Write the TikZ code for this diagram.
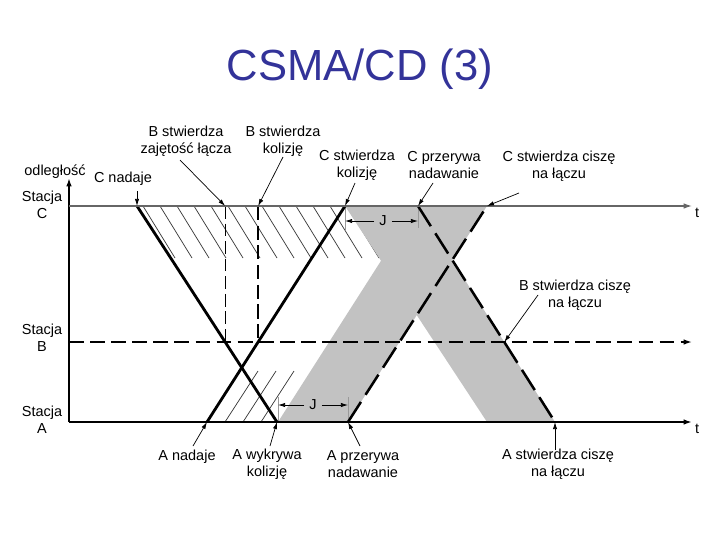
\documentclass[tikz,border=0pt]{standalone}
\usepackage{fontspec}
\setmainfont{Liberation Sans}
\usetikzlibrary{arrows.meta}
\definecolor{titleblue}{RGB}{51,51,153}
\definecolor{jamgray}{RGB}{194,194,194}
\newcommand{\lblfont}{\fontsize{10.3}{12}\selectfont}
\begin{document}
\begin{tikzpicture}[x=0.025cm, y=-0.025cm,
  lbl/.style={font=\lblfont, align=center, inner sep=0pt},
  jlbl/.style={font=\lblfont, inner sep=3.5pt},
  sig/.style={line width=2pt},
  stopsig/.style={line width=1.8pt, dash pattern=on 17pt off 6pt},
  axis/.style={line width=1.3pt, -{Latex[length=6pt,width=4pt]}},
  note/.style={line width=0.5pt, -{Latex[length=5pt,width=3pt]}},
  hatch/.style={line width=0.5pt, black!80},
  tickline/.style={line width=0.6pt, black!40}]
\useasboundingbox (0,0) rectangle (720,540);
\node[font=\fontsize{31}{36}\selectfont, text=titleblue] (title) at (360,69) {CSMA/CD (3)};
% events on the lines
\coordinate (O) at (69,422);
\coordinate (ytip) at (69,178);
\coordinate (Cl) at (69,206);
\coordinate (Cr) at (692,206);
\coordinate (Bl) at (69,342);
\coordinate (Br) at (692,342);
\coordinate (Ar) at (692,422);
\coordinate (Csend) at (137,206);
\coordinate (Asend) at (207,422);
\coordinate (Adet) at (277,422);
\coordinate (Cdet) at (345,206);
\coordinate (Cstop) at (418,206);
\coordinate (Astop) at (348,422);
\coordinate (Cquiet) at (487,206);
\coordinate (Aquiet) at (555,422);
\coordinate (Bbusy) at (intersection of Csend--Adet and Bl--Br);
\coordinate (Bcoll) at (intersection of Asend--Cdet and Bl--Br);
\coordinate (Bquiet) at (intersection of Cstop--Aquiet and Bl--Br);
\coordinate (Cbusy) at (Bbusy |- Cl);
\coordinate (Ccoll) at (Bcoll |- Cl);
% hatching
\foreach \x in {143,160,...,381} \draw[hatch] (\x,206) -- ++(32,52);
\foreach \x in {225,243,261} \draw[hatch] (\x,422) -- ++(33,-51);
% jam signals
\fill[jamgray] (278,422) -- (Astop) -- (Cquiet) -- (416,206) -- cycle;
\fill[jamgray] (Cdet) -- (Cstop) -- (Aquiet) -- (487,422) -- cycle;
\draw[tickline] (Cdet) -- ++(0,24);
\draw[tickline] (Cstop) -- ++(0,22);
\draw[tickline] (278,422) -- ++(0,-25);
\draw[tickline] (Astop) -- ++(0,-25);
\node[jlbl] (jC) at (383,221) {J};
\node[jlbl] (jA) at (313,405) {J};
\draw[note] (jC) -- (Cdet |- jC);
\draw[note] (jC) -- (Cstop |- jC);
\draw[note] (jA) -- (278,405);
\draw[note] (jA) -- (Astop |- jA);
% B listens
\draw[line width=0.9pt, dash pattern=on 9pt off 3.5pt] (Cbusy) -- (Bbusy);
\draw[line width=1.6pt, dash pattern=on 10pt off 4pt] (Ccoll) -- (Bcoll);
% signals
\draw[sig] (Csend) -- (Adet);
\draw[sig] (Asend) -- (Cdet);
\draw[stopsig] (Cstop) -- (Aquiet);
\draw[stopsig] (Astop) -- (Cquiet);
% axes
\draw[axis] (O) -- (ytip);
\draw[axis] (O) -- (Ar);
\draw[axis, line width=0.9pt, black!60] (Cl) -- (Cr);
\draw[axis, line width=1.1pt, dash pattern=on 10.5pt off 4.5pt] (Bl) -- (Br);
\node[lbl] (tC) at (697,213) {t};
\node[lbl] (tA) at (697,429) {t};
\node[lbl] (stC) at (42,205) {Stacja\\C};
\node[lbl] (stB) at (42,338) {Stacja\\B};
\node[lbl] (stA) at (42,420) {Stacja\\A};
\node[lbl] (odl) at (55,172) {odległość};
% labels above
\node[lbl] (cnad) at (123,179) {C nadaje};
\node[lbl] (bzaj) at (186,141) {B stwierdza\\zajętość łącza};
\node[lbl] (bkol) at (283,141) {B stwierdza\\kolizję};
\node[lbl] (ckol) at (357,165) {C stwierdza\\kolizję};
\node[lbl] (cprz) at (444,165) {C przerywa\\nadawanie};
\node[lbl] (ccis) at (559,166) {C stwierdza ciszę\\na łączu};
\node[lbl] (bcis) at (575,295) {B stwierdza ciszę\\na łączu};
% labels below
\node[lbl] (anad) at (187,457) {A nadaje};
\node[lbl] (awyk) at (267,464) {A wykrywa\\kolizję};
\node[lbl] (aprz) at (363,464) {A przerywa\\nadawanie};
\node[lbl] (acis) at (558,464) {A stwierdza ciszę\\na łączu};
% pointers
\coordinate (pcnad) at (137,191);
\coordinate (pbzaj) at (180,160);
\coordinate (pbkol) at (283,157);
\coordinate (pckol) at (355,183);
\coordinate (pcprz) at (433,183);
\coordinate (pccis) at (519,193);
\coordinate (pbcis) at (538,295);
\coordinate (panad) at (193,446);
\coordinate (pawyk) at (270,446);
\coordinate (paprz) at (360,446);
\coordinate (pacis) at (555,450);
\draw[note] (pcnad) -- (Csend);
\draw[note] (pbzaj) -- (Cbusy);
\draw[note] (pbkol) -- (Ccoll);
\draw[note] (pckol) -- (Cdet);
\draw[note] (pcprz) -- (Cstop);
\draw[note] (pccis) -- (Cquiet);
\draw[note] (pbcis) -- (Bquiet);
\draw[note] (panad) -- (Asend);
\draw[note] (pawyk) -- (Adet);
\draw[note] (paprz) -- (Astop);
\draw[note] (pacis) -- (Aquiet);
\end{tikzpicture}
\end{document}
